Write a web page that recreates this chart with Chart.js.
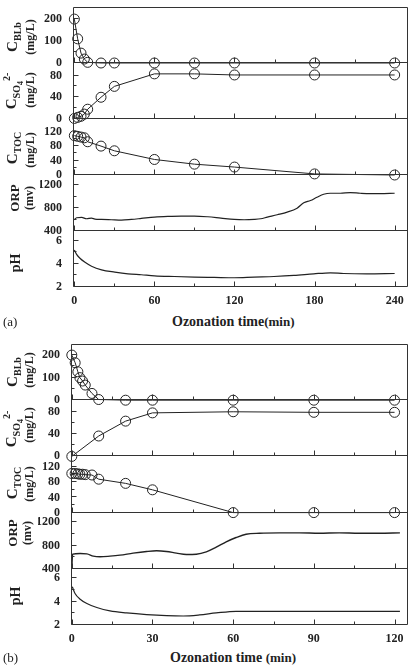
<!DOCTYPE html>
<html>
<head>
<meta charset="utf-8">
<script src="https://cdn.jsdelivr.net/npm/chart.js@4.4.1/dist/chart.umd.min.js"></script>
<style>
html,body{margin:0;padding:0;background:#fff;}
body{width:414px;height:669px;position:relative;overflow:hidden;font-family:"Liberation Serif","Times New Roman",serif;color:#222;}
canvas{position:absolute;left:0;}
.lbl{position:absolute;white-space:nowrap;transform:translate(-50%,-50%) rotate(-90deg);font-weight:bold;line-height:1;}
.big{font-size:15px;}
.sm{font-size:10px;}
.unit{font-size:12px;}
.xt{position:absolute;white-space:nowrap;font-weight:bold;font-size:14px;line-height:1;}
.xt .mn{font-size:13px;}
.pl{position:absolute;font-size:13px;line-height:1;}
sub,sup{line-height:0;}
</style>
</head>
<body>
<canvas id="chartA" width="414" height="312" style="top:0px"></canvas>
<canvas id="chartB" width="414" height="316" style="top:334px"></canvas>

<!-- panel (a) axis titles -->
<div class="lbl" style="left:12px;top:37px"><span class="big">C</span><sub class="sm">BLb</sub></div>
<div class="lbl unit" style="left:30px;top:37px">(mg/L)</div>
<div class="lbl" style="left:12px;top:91px"><span class="big">C</span><sub class="sm">SO<sub style="font-size:8px">4</sub></sub><sup class="sm">2-</sup></div>
<div class="lbl unit" style="left:30px;top:90px">(mg/L)</div>
<div class="lbl" style="left:12px;top:148px"><span class="big">C</span><sub class="sm">TOC</sub></div>
<div class="lbl unit" style="left:30px;top:150px">(mg/L)</div>
<div class="lbl" style="left:14px;top:198px;font-size:13px">ORP</div>
<div class="lbl" style="left:29px;top:198px;font-size:12px">(mv)</div>
<div class="lbl" style="left:16px;top:263px;font-size:14px">pH</div>
<div class="xt" style="left:172px;top:315px">Ozonation time<span class="mn">(min)</span></div>
<div class="pl" style="left:3px;top:315px">(a)</div>

<!-- panel (b) axis titles -->
<div class="lbl" style="left:12px;top:372px"><span class="big">C</span><sub class="sm">BLb</sub></div>
<div class="lbl unit" style="left:29px;top:370px">(mg/L)</div>
<div class="lbl" style="left:12px;top:429px"><span class="big">C</span><sub class="sm">SO<sub style="font-size:8px">4</sub></sub><sup class="sm">2-</sup></div>
<div class="lbl unit" style="left:29px;top:425px">(mg/L)</div>
<div class="lbl" style="left:12px;top:483px"><span class="big">C</span><sub class="sm">TOC</sub></div>
<div class="lbl unit" style="left:29px;top:484px">(mg/L)</div>
<div class="lbl" style="left:12px;top:533px;font-size:13px">ORP</div>
<div class="lbl" style="left:27px;top:533px;font-size:12px">(mv)</div>
<div class="lbl" style="left:16px;top:596px;font-size:14px">pH</div>
<div class="xt" style="left:170px;top:651px">Ozonation time <span class="mn">(min)</span></div>
<div class="pl" style="left:3px;top:651px">(b)</div>

<script>
// ---------------- Panel (a) data ----------------
const timeA = [0, 2.5, 5, 7.5, 10, 20, 30, 60, 90, 120, 180, 240];
const blbA  = [200, 110, 45, 18, 3, 0, 0, 0, 0, 0, 0, 0];
const so4A  = [1, 3, 5, 9, 18, 40, 60, 83, 83, 81, 81, 81];
const tocA  = [109, 107, 105, 103, 92, 80, 67, 43, 30, 22, 3, 0];
const orpTimeA = [0, 1.7, 5.5, 9.2, 12.9, 15.4, 20.4, 27.8, 35.3, 42.7, 50.2, 60.1, 70, 80, 89.9, 99.9, 109.8, 119.8, 127.2, 134.7, 139.6, 144.6, 152, 159.5, 166.9, 171.9, 176.9, 181.8, 186.8, 191.8, 199.3, 206.7, 214.2, 221.6, 229, 240];
const orpA     = [597, 632, 638, 614, 626, 609, 603, 597, 591, 603, 620, 643, 655, 661, 661, 649, 626, 603, 597, 603, 614, 643, 684, 730, 800, 893, 933, 991, 1043, 1061, 1061, 1072, 1061, 1055, 1055, 1061];
const phTimeA  = [0, 1.7, 4.2, 8, 12.9, 20.4, 30.3, 40.2, 50.2, 60.1, 75, 89.9, 104.8, 119.8, 134.7, 149.6, 164.5, 179.4, 191.8, 201.7, 219.1, 240];
const phA      = [5.2, 4.83, 4.49, 4.14, 3.8, 3.49, 3.29, 3.14, 3.06, 2.97, 2.91, 2.86, 2.83, 2.8, 2.86, 2.91, 3.0, 3.14, 3.23, 3.17, 3.14, 3.17];

// ---------------- Panel (b) data ----------------
const timeB = [0, 1.25, 2.25, 3, 4, 5, 7.5, 10, 20, 30, 60, 90, 120];
const blbB  = [200, 166, 126, 100, 85, 67, 30, 3, 0, 0, 0, 0, 0];
const tocB  = [103, 103, 102, 101, 101, 100, 99, 88, 77, 60, 0, 0, 0];
const so4TimeB = [0, 10, 20, 30, 60, 90, 120];
const so4B     = [0, 37, 64, 79, 81, 80, 80];
const orpTimeB = [0, 0.3, 3.1, 5.6, 8, 10.5, 14.2, 17.9, 22.8, 27.8, 31.5, 35.2, 38.9, 42.6, 46.3, 50, 53.7, 57.4, 61.1, 64.8, 69.8, 77.2, 84.6, 92, 99.4, 106.8, 114.2, 122];
const orpB     = [420, 651, 663, 657, 617, 606, 617, 634, 669, 697, 709, 697, 669, 646, 651, 691, 771, 863, 937, 994, 1011, 1017, 1017, 1011, 1017, 1011, 1011, 1017];
const phTimeB  = [0.2, 1.2, 3.1, 5.6, 9.3, 14.2, 20.4, 27.8, 35.2, 41.4, 47.5, 53.7, 61.1, 72.2, 96.9, 122];
const phB      = [5.26, 4.69, 4.2, 3.83, 3.49, 3.2, 3.03, 2.89, 2.8, 2.77, 2.86, 3.03, 3.17, 3.17, 3.17, 3.17];

// ---------------- Tick labels ----------------
const xMajorA = [0, 60, 120, 180, 240];
const xMinorA = [30, 90, 150, 210];
const xMajorB = [0, 30, 60, 90, 120];
const xMinorB = [15, 45, 75, 105];
const blbMajor = [0, 100, 200];   const blbMinor = [50, 150];
const so4Major = [0, 40, 80];     const so4Minor = [20, 60];
const tocMajor = [0, 40, 80, 120]; const tocMinor = [20, 60, 100];
const orpMajor = [400, 800, 1200]; const orpMinor = [600, 1000];
const phMajor = [2, 4, 6];        const phMinor = [3, 5];

const FONT = "'Liberation Serif','Times New Roman',serif";
const INK = '#222';

function pts(xs, ys) { return xs.map((x, i) => ({x: x, y: ys[i]})); }

function tickFont() { return {family: FONT, weight: 'bold', size: 12}; }

function yScale(min, max, major, minor, weight) {
  return {
    type: 'linear', position: 'left', stack: 'panel', stackWeight: 1, weight: weight,
    min: min, max: max,
    grid: {display: false, drawTicks: false},
    border: {display: false},
    afterFit: function (s) { s.width = 33; s.paddingTop = 0; s.paddingBottom = 0; },
    afterBuildTicks: function (s) {
      s.ticks = major.concat(minor).sort((a, b) => a - b).map(v => ({value: v}));
    },
    ticks: {
      autoSkip: false, padding: 11, color: INK, font: tickFont(),
      callback: (v) => major.includes(v) ? String(v) : ''
    }
  };
}

function xScale(min, max, major, minor) {
  return {
    type: 'linear', position: 'bottom', min: min, max: max,
    grid: {display: false, drawTicks: false},
    border: {display: false},
    afterFit: function (s) { s.height = 25; s.paddingLeft = 0; s.paddingRight = 0; },
    afterBuildTicks: function (s) {
      s.ticks = major.concat(minor).sort((a, b) => a - b).map(v => ({value: v}));
    },
    ticks: {
      autoSkip: false, maxRotation: 0, padding: 7, color: INK, font: tickFont(),
      callback: (v) => major.includes(v) ? String(v) : ''
    }
  };
}

function markerSet(data, axis) {
  return {
    data: data, yAxisID: axis, xAxisID: 'x',
    borderColor: INK, borderWidth: 1, tension: 0,
    pointRadius: 5, pointHoverRadius: 5, pointBorderWidth: 1,
    pointBorderColor: INK, pointBackgroundColor: 'rgba(0,0,0,0)',
    clip: false
  };
}

function curveSet(data, axis, width) {
  return {
    data: data, yAxisID: axis, xAxisID: 'x',
    borderColor: INK, borderWidth: width, pointRadius: 0,
    cubicInterpolationMode: 'monotone', clip: false
  };
}

const framePlugin = {
  id: 'frame',
  afterDraw(chart) {
    const ctx = chart.ctx, a = chart.chartArea, sc = chart.scales, xs = sc.x;
    const ids = ['blb', 'so4', 'toc', 'orp', 'ph'];
    const L = Math.round(a.left) + 0.5, R = Math.round(a.right) - 0.5;
    const T = Math.round(a.top) + 0.5, B = Math.round(a.bottom) - 0.5;
    ctx.save();
    ctx.strokeStyle = '#333';
    ctx.lineWidth = 1;
    ctx.beginPath();
    ctx.rect(L, T, R - L, B - T);
    ids.forEach(id => {
      const s = sc[id];
      const yb = Math.round(s.bottom) - 0.5;
      if (id !== 'ph') { ctx.moveTo(L, yb); ctx.lineTo(R, yb); }
      xs.ticks.forEach(t => {
        const px = Math.round(xs.getPixelForValue(t.value)) + 0.5;
        const len = t.label ? 5 : 3;
        ctx.moveTo(px, yb); ctx.lineTo(px, yb - len);
      });
      s.ticks.forEach(t => {
        const py = Math.round(s.getPixelForValue(t.value)) - 0.5;
        const len = t.label ? 5 : 3;
        ctx.moveTo(L, py); ctx.lineTo(L + len, py);
      });
    });
    ctx.stroke();
    ctx.restore();
  }
};

function makeChart(id, pad, xs, ys, datasets) {
  const scales = {x: xs};
  scales.ph = ys.ph; scales.orp = ys.orp; scales.toc = ys.toc; scales.so4 = ys.so4; scales.blb = ys.blb;
  return new Chart(document.getElementById(id), {
    type: 'line',
    data: {datasets: datasets},
    options: {
      responsive: false, animation: false, devicePixelRatio: 1, events: [],
      layout: {padding: pad},
      plugins: {legend: {display: false}, tooltip: {enabled: false}, title: {display: false}},
      scales: scales
    },
    plugins: [framePlugin]
  });
}

makeChart('chartA', {left: 40, right: 4, top: 7, bottom: 0},
  xScale(-1, 250, xMajorA, xMinorA),
  {
    blb: yScale(0, 255, blbMajor, blbMinor, 5),
    so4: yScale(0, 103, so4Major, so4Minor, 4),
    toc: yScale(0, 155, tocMajor, tocMinor, 3),
    orp: yScale(400, 1380, orpMajor, orpMinor, 2),
    ph:  yScale(2, 6.85, phMajor, phMinor, 1)
  },
  [
    markerSet(pts(timeA, blbA), 'blb'),
    markerSet(pts(timeA, so4A), 'so4'),
    markerSet(pts(timeA, tocA), 'toc'),
    curveSet(pts(orpTimeA, orpA), 'orp', 1.2),
    curveSet(pts(phTimeA, phA), 'ph', 1.2)
  ]);

makeChart('chartB', {left: 38, right: 5, top: 10, bottom: 0},
  xScale(-0.3, 125, xMajorB, xMinorB),
  {
    blb: yScale(0, 249, blbMajor, blbMinor, 5),
    so4: yScale(0, 102, so4Major, so4Minor, 4),
    toc: yScale(0, 148, tocMajor, tocMinor, 3),
    orp: yScale(400, 1365, orpMajor, orpMinor, 2),
    ph:  yScale(2, 6.8, phMajor, phMinor, 1)
  },
  [
    markerSet(pts(timeB, blbB), 'blb'),
    markerSet(pts(so4TimeB, so4B), 'so4'),
    markerSet(pts(timeB, tocB), 'toc'),
    curveSet(pts(orpTimeB, orpB), 'orp', 1.4),
    curveSet(pts(phTimeB, phB), 'ph', 1.2)
  ]);
</script>
</body>
</html>
